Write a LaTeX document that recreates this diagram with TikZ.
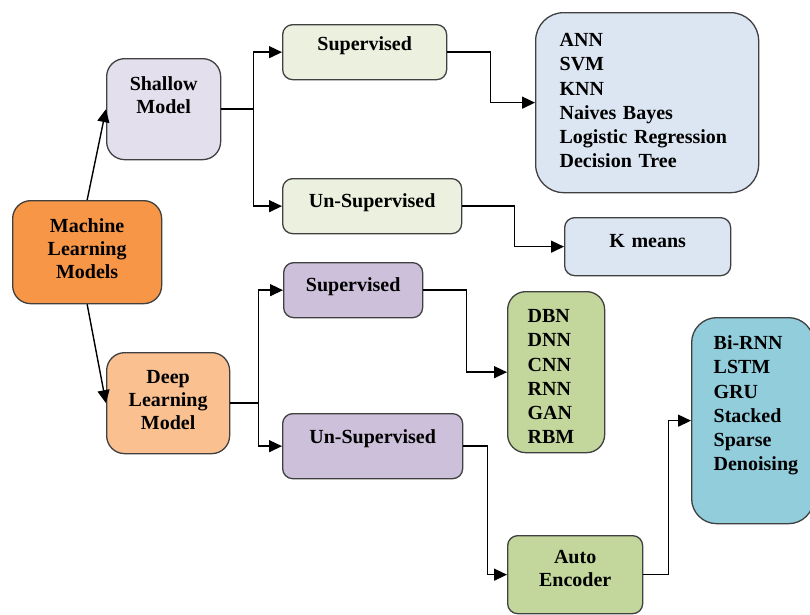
\documentclass[tikz,border=0pt]{standalone}
\usepackage{fontspec}
\setmainfont{Liberation Serif}
\usetikzlibrary{arrows.meta}

\definecolor{mlorange}{HTML}{F79646}
\definecolor{shallowfill}{HTML}{E4DFEC}
\definecolor{deepfill}{HTML}{FAC090}
\definecolor{palegreen}{HTML}{EBF1DE}
\definecolor{paleblue}{HTML}{DCE6F2}
\definecolor{mauve}{HTML}{CCC0DA}
\definecolor{olivegreen}{HTML}{C3D69B}
\definecolor{aqua}{HTML}{92CDDC}

\tikzset{
  box/.style={draw=black!75, line width=1.3pt, rounded corners=10pt, inner sep=0pt,
    align=center, anchor=north west, font=\fontsize{20}{23}\selectfont\bfseries},
  listbox/.style={box, align=left, font=\fontsize{20}{24.2}\selectfont\bfseries},
  conn/.style={line width=1.4pt, -{Triangle[length=13pt,width=12pt]}}
}

\begin{document}
\begin{tikzpicture}[x=1pt,y=-1pt]
    \path[use as bounding box, fill=white] (0,0) rectangle (810,614);

    % root and the two model families
    \node[box, fill=mlorange, rounded corners=18pt, text width=149pt, text height=32pt, text depth=71pt]
        (ml) at (12,200) {Machine\\Learning\\Models};
    \node[box, fill=shallowfill, rounded corners=18pt, text width=114pt, text height=32pt, text depth=69pt]
        (shallow) at (106,58) {Shallow\\Model};
    \node[box, fill=deepfill, rounded corners=18pt, text width=123pt, text height=31pt, text depth=70pt]
        (deep) at (106,352) {Deep\\Learning\\Model};

    % shallow branch
    \node[box, fill=palegreen, text width=164pt, text height=26pt, text depth=29pt]
        (supa) at (282,24) {Supervised};
    \node[box, fill=palegreen, text width=179pt, text height=29pt, text depth=26pt]
        (unsupa) at (282,178) {Un-Supervised};
    \node[listbox, fill=paleblue, rounded corners=28pt, inner xsep=24pt, text width=175pt, text height=34pt, text depth=146pt]
        (ann) at (535,12) {ANN\\SVM\\KNN\\Naives Bayes\\Logistic Regression\\Decision Tree};
    \node[box, fill=paleblue, text width=166pt, text height=30pt, text depth=28pt]
        (kmeans) at (564,217) {K means};

    % deep branch
    \node[box, fill=mauve, text width=139pt, text height=29pt, text depth=26pt]
        (supb) at (283,262) {Supervised};
    \node[box, fill=mauve, text width=180pt, text height=30pt, text depth=35pt]
        (unsupb) at (282,413) {Un-Supervised};
    \node[listbox, fill=olivegreen, rounded corners=18pt, inner xsep=20pt, text width=57pt, text height=31pt, text depth=130pt]
        (dbn) at (507,291) {DBN\\DNN\\CNN\\RNN\\GAN\\RBM};
    \node[box, fill=olivegreen, text width=135pt, text height=28pt, text depth=50pt]
        (ae) at (507,535) {Auto\\Encoder};
    \node[listbox, fill=aqua, rounded corners=25pt, inner xsep=22pt, text width=78pt, text height=32pt, text depth=174pt]
        (birnn) at (691,317) {Bi-RNN\\LSTM\\GRU\\Stacked\\Sparse\\Denoising};

    % connectors
    \draw[conn] (ml.north) -- (shallow.west);
    \draw[conn] (ml.south) -- (deep.west);
    \draw[conn] (shallow.east) -- ++(32,0) |- (supa.west);
    \draw[conn] (shallow.east) -- ++(32,0) |- (unsupa.west);
    \draw[conn] (supa.east) -- ++(43,0) |- (ann.west);
    \draw[conn] (unsupa.east) -- ++(52,0) |- (kmeans.west);
    \draw[conn] (deep.east) -- ++(28,0) |- (supb.west);
    \draw[conn] (deep.east) -- ++(28,0) |- (unsupb.west);
    \draw[conn] (supb.east) -- ++(43,0) |- (dbn.west);
    \draw[conn] (unsupb.east) -- ++(24,0) |- (ae.west);
    \draw[conn] (ae.east) -- ++(25,0) |- (birnn.west);
\end{tikzpicture}
\end{document}
